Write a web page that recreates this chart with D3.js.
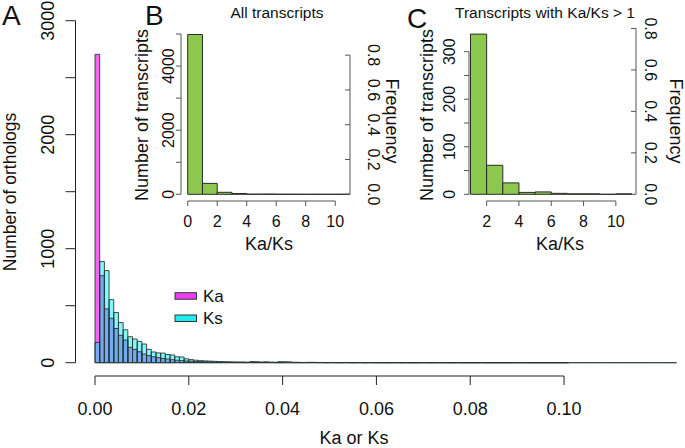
<!DOCTYPE html>
<html><head><meta charset="utf-8">
<script src="https://cdn.jsdelivr.net/npm/d3@7"></script>
<style>
html,body{margin:0;padding:0;background:#fff;}
svg text{font-family:"Liberation Sans",Arial,sans-serif;fill:#111;}
</style></head>
<body><svg id="c" width="685" height="448"></svg>
<script>
// ---- Panel A data: histogram of Ka and Ks (bin width 0.001) ----
const binWidthA = 0.001;
const kaCounts = [2705,763,472,390,300,240,199,135,117,96,76,
 62,52,45,38,32,26,22,18,15,13,
 11,9,8,7,6,5,4,4,3,3,
 3,2,2,3,2,2,2,2,1,3,
 2,1,1,1,1,2,1,1,0,1,
 1,0,1,0,0,1,0,1,0,0,
 0,0,1,0,0,0,0,0,1,0,
 0,0,0,0,0,0,1,0,0,0,
 0,0,0,0,0,0,0,0,0,1,
 0,0,0,0,0,0,0,0,0,0,
 0,0,0,0,0,0,0,0,0,0,
 0,0,0,0,0,0,0,0,0,0,
 0,0,0];
const ksCounts = [178,888,808,553,440,352,289,228,208,187,164,
 117,94,86,84,72,68,52,50,34,27,
 22,18,16,14,12,10,9,8,7,6,
 6,5,10,9,6,8,5,4,9,8,
 7,4,3,2,3,3,2,2,1,2,
 1,1,2,1,1,1,0,1,1,0,
 1,0,0,1,0,1,0,0,0,1,
 0,0,1,0,0,0,0,0,0,0,
 0,1,0,0,0,0,0,0,0,0,
 0,0,0,0,0,0,0,0,0,0];
const seriesNames = ["Ka","Ks"];
const xTicksA = [0,0.02,0.04,0.06,0.08,0.10];
const yTicksA = [0,500,1000,1500,2000,2500,3000];
const yLabelsA = [0,1000,2000,3000];

// ---- Panel B data: Ka/Ks of all transcripts (bin width 1) ----
const bBinStart = 0;
const bCounts = [4985,340,62,24,4,6,2,1,1,0,1];
const xTicksB = [0,2,4,6,8,10];
const yTicksB = [0,1000,2000,3000,4000,5000];
const yLabelsB = [0,2000,4000];
const freqTicks = [0,0.2,0.4,0.6,0.8];

// ---- Panel C data: transcripts with Ka/Ks > 1 ----
const cBinStart = 1;
const cCounts = [337,61,24,4,5,2,1,1,0,1];
const xTicksC = [2,4,6,8,10];
const yTicksC = [0,50,100,150,200,250,300];
const yLabelsC = [0,100,200,300];

const svg = d3.select("#c");

function barPath(x0,x1,y0,y1){return `M${x0},${y0}V${y1}H${x1}V${y0}Z`;}

// ================= Panel A =================
const xA = d3.scaleLinear().domain([0,0.124]).range([95,676.6]);
const yA = d3.scaleLinear().domain([0,3000]).range([362.7,20.7]);
const colKa = "#f066f0", colKs = "#84f8f8", colBoth = "#74aaf0";
const gA = svg.append("g");
gA.selectAll(".ks").data(ksCounts).join("path")
  .attr("d",(d,i)=>barPath(xA(i*binWidthA),xA((i+1)*binWidthA),yA(0),yA(d)))
  .attr("fill",colKs).attr("stroke","none");
gA.selectAll(".ka").data(kaCounts).join("path")
  .attr("d",(d,i)=>barPath(xA(i*binWidthA),xA((i+1)*binWidthA),yA(0),yA(d)))
  .attr("fill",colKa).attr("stroke","none");
gA.selectAll(".both").data(ksCounts).join("path")
  .attr("d",(d,i)=>barPath(xA(i*binWidthA),xA((i+1)*binWidthA),yA(0),yA(Math.min(d,kaCounts[i]||0))))
  .attr("fill",colBoth).attr("stroke","none");
[ksCounts,kaCounts].forEach(arr=>{
  gA.append("g").selectAll("path").data(arr).join("path")
    .attr("d",(d,i)=>barPath(xA(i*binWidthA),xA((i+1)*binWidthA),yA(0),yA(d)))
    .attr("fill","none").attr("stroke","#2a3a3a").attr("stroke-width",0.9);
});
const axA = svg.append("g").attr("stroke","#222").attr("stroke-width",1);
axA.append("line").attr("x1",75.5).attr("x2",75.5).attr("y1",yA(0)).attr("y2",yA(3000));
axA.selectAll(".t").data(yTicksA).join("line").attr("x1",65.5).attr("x2",75.5)
  .attr("y1",d=>yA(d)).attr("y2",d=>yA(d));
svg.append("g").selectAll("text").data(yLabelsA).join("text")
  .attr("transform",d=>`translate(54,${yA(d)}) rotate(-90)`)
  .attr("text-anchor","middle").attr("font-size",18).text(d=>d);
const axAx = svg.append("g").attr("stroke","#222").attr("stroke-width",1);
axAx.append("line").attr("x1",xA(0)).attr("x2",xA(0.10)).attr("y1",376).attr("y2",376);
axAx.selectAll(".t").data(xTicksA).join("line").attr("x1",d=>xA(d)).attr("x2",d=>xA(d))
  .attr("y1",376).attr("y2",385);
svg.append("g").selectAll("text").data(xTicksA).join("text")
  .attr("x",d=>xA(d)).attr("y",415).attr("text-anchor","middle").attr("font-size",18)
  .text(d=>d3.format(".2f")(d));
svg.append("text").attr("x",354).attr("y",444).attr("text-anchor","middle")
  .attr("font-size",18).text("Ka or Ks");
svg.append("text").attr("transform","translate(15.5,192) rotate(-90)")
  .attr("text-anchor","middle").attr("font-size",17.5).text("Number of orthologs");
svg.append("text").attr("x",2).attr("y",25).attr("font-size",28).text("A");
const legA = svg.append("g");
[["#f03cf0",292.7,302],["#1ceef0",315,324]].forEach((l,i)=>{
  legA.append("rect").attr("x",175).attr("y",l[1]).attr("width",21.5).attr("height",6.5)
    .attr("fill",l[0]).attr("stroke","#333").attr("stroke-width",1);
  legA.append("text").attr("x",203).attr("y",l[2]).attr("font-size",17).text(seriesNames[i]);
});

// ================= inset helper =================
function inset(o){
  const g = svg.append("g");
  const x = d3.scaleLinear().domain(o.xDom).range(o.xRange);
  const y = d3.scaleLinear().domain(o.yDom).range([194.3,o.yTop]);
  const total = d3.sum(o.counts);
  g.selectAll(".bar").data(o.counts).join("path")
    .attr("d",(d,i)=>barPath(x(o.start+i),x(o.start+i+1),y(0),y(d)))
    .attr("fill","#8cc84e").attr("stroke","#2b2b2b").attr("stroke-width",1);
  const ax = g.append("g").attr("stroke","#555").attr("stroke-width",1);
  ax.append("line").attr("x1",o.leftX).attr("x2",o.leftX).attr("y1",y(0)).attr("y2",y(d3.max(o.yTicks)));
  ax.selectAll(".yt").data(o.yTicks).join("line").attr("x1",o.leftX-5).attr("x2",o.leftX)
    .attr("y1",d=>y(d)).attr("y2",d=>y(d));
  g.append("g").selectAll("text").data(o.yLabels).join("text")
    .attr("transform",d=>`translate(${o.leftLab},${y(d)}) rotate(-90)`)
    .attr("text-anchor","middle").attr("font-size",16).text(d=>d);
  ax.append("line").attr("x1",x(d3.min(o.xTicks))).attr("x2",x(d3.max(o.xTicks))).attr("y1",201).attr("y2",201);
  ax.selectAll(".xt").data(o.xTicks).join("line").attr("x1",d=>x(d)).attr("x2",d=>x(d))
    .attr("y1",201).attr("y2",206);
  g.append("g").selectAll("text").data(o.xTicks).join("text")
    .attr("x",d=>x(d)).attr("y",227).attr("text-anchor","middle").attr("font-size",16).text(d=>d);
  g.append("text").attr("x",o.xTitleX).attr("y",250).attr("text-anchor","middle")
    .attr("font-size",18).text("Ka/Ks");
  const yf = f=>y(f*total);
  ax.append("line").attr("x1",o.rightX).attr("x2",o.rightX).attr("y1",yf(0)).attr("y2",yf(0.8));
  ax.selectAll(".ft").data(freqTicks).join("line").attr("x1",o.rightX-5).attr("x2",o.rightX)
    .attr("y1",d=>yf(d)).attr("y2",d=>yf(d));
  g.append("g").selectAll("text").data(freqTicks).join("text")
    .attr("transform",d=>`translate(${o.rightLab},${yf(d)}) rotate(90)`)
    .attr("text-anchor","middle").attr("font-size",16).text(d=>d.toFixed(1));
  g.append("text").attr("transform",`translate(${o.freqX},121) rotate(90)`)
    .attr("text-anchor","middle").attr("font-size",18).text("Frequency");
  g.append("text").attr("transform",`translate(${o.yLabX},115) rotate(-90)`)
    .attr("text-anchor","middle").attr("font-size",18).text("Number of transcripts");
  g.append("text").attr("x",o.titleX).attr("y",18).attr("text-anchor","middle")
    .attr("font-size",15.5).text(o.title);
  g.append("text").attr("x",o.letterX).attr("y",o.letterY).attr("font-size",28).text(o.letter);
}

inset({xDom:[0,11],xRange:[187.7,350],yDom:[0,5000],yTop:34,counts:bCounts,start:bBinStart,
  xTicks:xTicksB,yTicks:yTicksB,yLabels:yLabelsB,leftX:181,leftLab:174,rightX:350,rightLab:368,
  freqX:386,yLabX:148,xTitleX:269,titleX:277,title:"All transcripts",letter:"B",letterX:145,letterY:25});
inset({xDom:[1,11],xRange:[470.5,632],yDom:[0,300],yTop:51.7,counts:cCounts,start:cBinStart,
  xTicks:xTicksC,yTicks:yTicksC,yLabels:yLabelsC,leftX:469,leftLab:455,rightX:636,rightLab:645,
  freqX:670,yLabX:433,xTitleX:560,titleX:545,title:"Transcripts with Ka/Ks > 1",letter:"C",letterX:407,letterY:28});
</script></body></html>
